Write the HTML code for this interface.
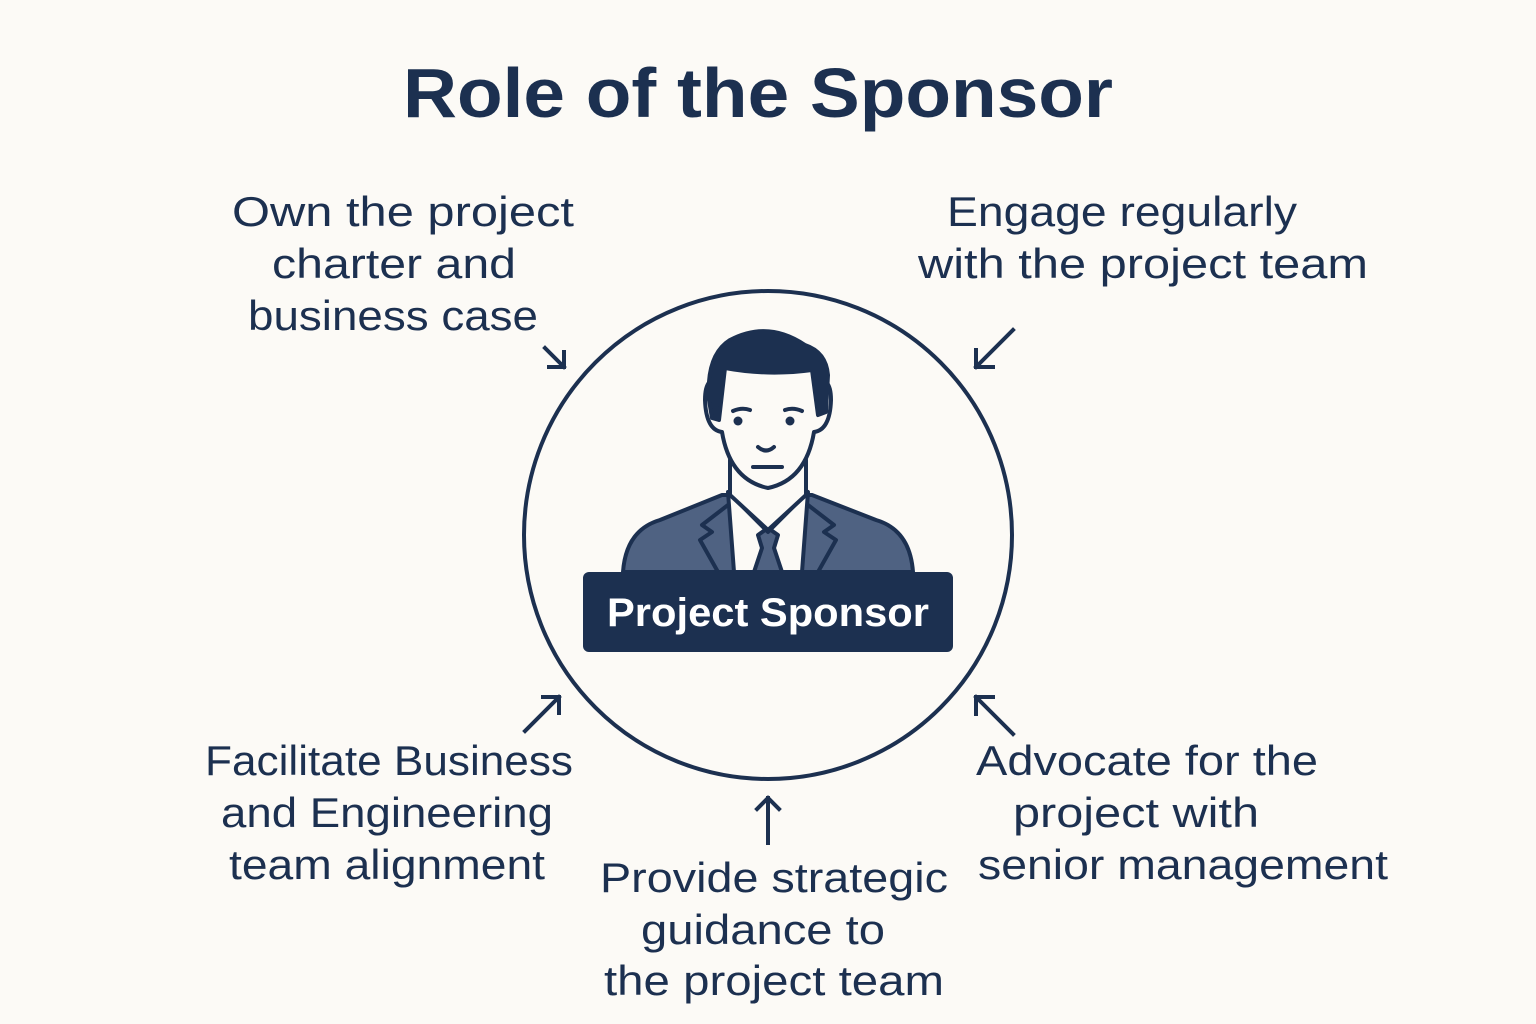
<!DOCTYPE html>
<html><head><meta charset="utf-8"><style>
html,body{margin:0;padding:0;background:#fcfaf6;}
svg{display:block;}
text{font-family:"Liberation Sans",sans-serif;fill:#1c3050;}
</style></head><body>
<svg width="1536" height="1024" viewBox="0 0 1536 1024" xmlns="http://www.w3.org/2000/svg">
<rect width="1536" height="1024" fill="#fcfaf6"/>
<text x="758" y="117" text-anchor="middle" font-size="70" font-weight="bold" textLength="710" lengthAdjust="spacingAndGlyphs">Role of the Sponsor</text>
<g font-size="42" text-anchor="middle">
<text x="403" y="226" textLength="342" lengthAdjust="spacingAndGlyphs">Own the project</text>
<text x="394" y="278" textLength="244" lengthAdjust="spacingAndGlyphs">charter and</text>
<text x="393" y="330" textLength="290" lengthAdjust="spacingAndGlyphs">business case</text>
<text x="1122" y="226" textLength="350" lengthAdjust="spacingAndGlyphs">Engage regularly</text>
<text x="1143" y="278" textLength="450" lengthAdjust="spacingAndGlyphs">with the project team</text>
<text x="389" y="775" textLength="368" lengthAdjust="spacingAndGlyphs">Facilitate Business</text>
<text x="387" y="827" textLength="332" lengthAdjust="spacingAndGlyphs">and Engineering</text>
<text x="387" y="879" textLength="316" lengthAdjust="spacingAndGlyphs">team alignment</text>
<text x="1147" y="775" textLength="342" lengthAdjust="spacingAndGlyphs">Advocate for the</text>
<text x="1136" y="827" textLength="246" lengthAdjust="spacingAndGlyphs">project with</text>
<text x="1183" y="879" textLength="410" lengthAdjust="spacingAndGlyphs">senior management</text>
<text x="774" y="892" textLength="348" lengthAdjust="spacingAndGlyphs">Provide strategic</text>
<text x="763" y="944" textLength="244" lengthAdjust="spacingAndGlyphs">guidance to</text>
<text x="774" y="995" textLength="340" lengthAdjust="spacingAndGlyphs">the project team</text>
</g>
<circle cx="768" cy="535" r="244" fill="none" stroke="#1c3050" stroke-width="4"/>
<g stroke="#1c3050" stroke-width="4" fill="none" stroke-linecap="square">
<path d="M545 348 L564 367 M564 352 L564 367 L549 367"/>
<path d="M1013 330 L976 367 M976 350 L976 367 L993 367"/>
<path d="M525 731 L559 697 M543 697 L559 697 L559 713"/>
<path d="M1013 734 L976 697 M976 714 L976 697 L993 697"/>
<path d="M768 843 L768 798 M757 809 L768 798 L779 809"/>
</g>
<g stroke="#1c3050" stroke-width="4" stroke-linejoin="round">
<path d="M623 572 Q626 530 660 520 L722 495 L812 495 L876 520 Q910 530 913 572 Z" fill="#4f6282"/>
<path d="M728 492 L768 530 L808 492 L802 572 L734 572 Z" fill="#fcfaf6"/>
<path d="M758 535 L768 528 L778 535 L774 548 L782 572 L754 572 L762 548 Z" fill="#4f6282"/>
<path d="M728 492 L768 532 L808 492" fill="none"/>
<path d="M728 505 L702 525 L712 532 L700 540 L718 572 M808 505 L834 525 L824 532 L836 540 L818 572" fill="none"/>
<path d="M730 460 L730 495 L768 530 L806 495 L806 460 Z" fill="#fcfaf6"/>
<path d="M715 380 Q705 380 705 400 Q706 430 722 432 Q730 480 768 488 Q806 480 814 432 Q830 430 831 400 Q831 380 820 380 L818 370 Q768 350 718 370 Z" fill="#fcfaf6"/>
<path d="M709 400 Q706 355 730 340 Q768 320 805 345 Q826 352 828 375 L826 412 L818 415 L812 370 Q768 376 725 368 L719 420 L712 418 Z" fill="#1c3050"/>
<path d="M733 411 Q742 407 750 410 M785 410 Q793 407 802 411 M758 447 Q766 454 774 447 M753 467 L782 467" fill="none" stroke-linecap="round"/>
</g>
<circle cx="738" cy="421" r="4.5" fill="#1c3050"/>
<circle cx="790" cy="421" r="4.5" fill="#1c3050"/>
<rect x="583" y="572" width="370" height="80" rx="6" fill="#1c3050"/>
<text x="768" y="626" text-anchor="middle" font-size="40" font-weight="bold" style="fill:#fff" textLength="322" lengthAdjust="spacingAndGlyphs">Project Sponsor</text>
</svg>
</body></html>
